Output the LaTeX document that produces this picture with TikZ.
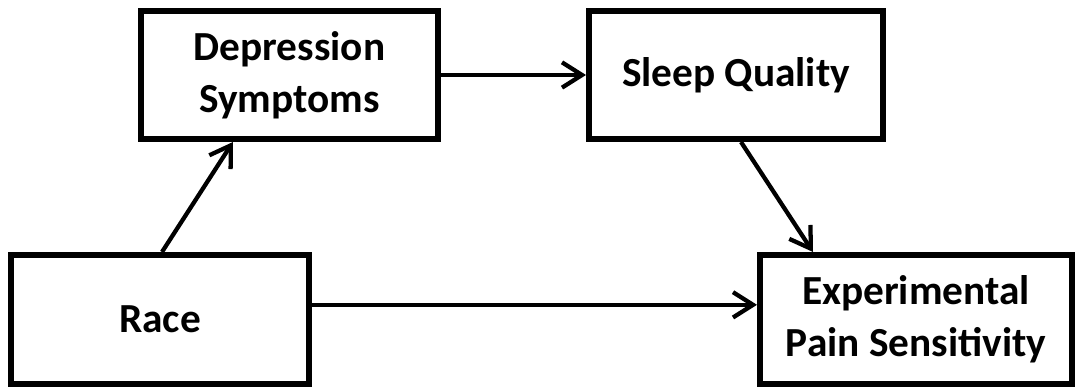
\documentclass[tikz,border=0pt]{standalone}
\usepackage{fontspec}
\setmainfont{Carlito}
\usetikzlibrary{arrows.meta,positioning}

\begin{document}
\begin{tikzpicture}[x=0.75pt,y=0.75pt,font=\bfseries\fontsize{31}{39}\selectfont,
 box/.style={draw=black,line width=4.5pt,align=center,inner sep=0pt},
 ar/.style={-{Straight Barb[length=15pt,width=19pt]},line width=3.2pt,draw=black}]
\useasboundingbox (0,0) rectangle (1076,388);
\node[box,minimum width=222.75pt,minimum height=96pt] (dep) at (289.5,313) {Depression\\Symptoms};
\node[box,minimum width=220.5pt,minimum height=96pt] (sleep) at (736,313) {Sleep Quality};
\node[box,minimum width=223.5pt,minimum height=96.75pt] (race) at (160,68.5) {Race};
\node[box,minimum width=234pt,minimum height=96.75pt] (pain) at (916,68.5) {Experimental\\Pain Sensitivity};
\draw[ar] ([xshift=1.5pt]race.north) -- ([xshift=-42.4pt]dep.south);
\draw[ar] (dep.east) -- (sleep.west);
\draw[ar] ([xshift=3.75pt]sleep.south) -- ([xshift=-77.25pt]pain.north);
\draw[ar] ([yshift=11pt]race.east) -- ([yshift=11pt]pain.west);
\end{tikzpicture}
\end{document}
